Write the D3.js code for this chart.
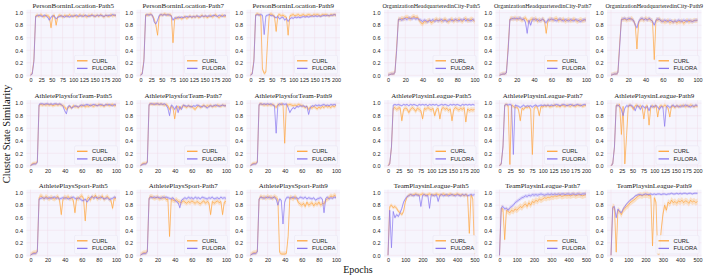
<!DOCTYPE html>
<html><head><meta charset="utf-8">
<script src="https://cdn.jsdelivr.net/npm/d3@7"></script>
<style>body{margin:0;background:#fff}svg{display:block}</style>
</head><body><svg id="c" width="709" height="279"></svg>
<script>
// ---------- titles / axes ----------
const titles = [
 "PersonBorninLocation-Path5","PersonBorninLocation-Path7","PersonBorninLocation-Path9",
 "OrganizationHeadquarteredinCity-Path5","OrganizationHeadquarteredinCity-Path7","OrganizationHeadquarteredinCity-Path9",
 "AthletePlaysforTeam-Path5","AthletePlaysforTeam-Path7","AthletePlaysforTeam-Path9",
 "AthletePlaysinLeague-Path5","AthletePlaysinLeague-Path7","AthletePlaysinLeague-Path9",
 "AthletePlaysSport-Path5","AthletePlaysSport-Path7","AthletePlaysSport-Path9",
 "TeamPlaysinLeague-Path5","TeamPlaysinLeague-Path7","TeamPlaysinLeague-Path9"];
const xMaxes = [200,200,200,100,100,100,100,100,100,200,200,200,100,100,100,500,500,500];
const ticks100 = [0,20,40,60,80,100];
const ticks200 = [0,25,50,75,100,125,150,175,200];
const ticks500 = [0,100,200,300,400,500];
const yTicks = [0,0.2,0.4,0.6,0.8,1.0];
const seriesNames = ["CURL","FULORA"];
const xLabel = "Epochs", yLabel = "Cluster State Similarity";

// ---------- series (51 samples across each panel's epoch range) ----------
const curl_PBL5 = [0,.03,.25,.95,.96,.94,.97,.95,.93,.96, .95,.94,.76,.95,.96,.8,.94,.96,.95,.93, .96,.94,.95,.97,.94,.95,.96,.93,.95,.97, .94,.96,.95,.93,.96,.95,.97,.94,.95,.96, .94,.97,.95,.93,.96,.95,.94,.97,.95,.96, .95];
const fulora_PBL5 = [0,.02,.22,.94,.95,.96,.95,.94,.96,.95, .93,.88,.93,.95,.94,.9,.93,.94,.95,.94, .93,.95,.94,.93,.95,.94,.95,.96,.94,.95, .95,.94,.96,.95,.94,.95,.96,.95,.94,.96, .95,.96,.95,.94,.96,.95,.96,.95,.97,.96, .96];
const curl_PBL7 = [0,.03,.25,.97,.96,.97,.98,.95,.9,.8, .64,.95,.97,.96,.98,.97,.96,.97,.96,.52, .9,.92,.91,.93,.9,.92,.94,.91,.93,.95, .92,.94,.93,.95,.92,.94,.96,.93,.95,.92, .94,.96,.93,.95,.97,.94,.92,.95,.96,.94, .95];
const fulora_PBL7 = [0,.02,.22,.96,.97,.96,.97,.96,.85,.82, .88,.96,.97,.96,.97,.96,.97,.96,.95,.88, .92,.91,.93,.92,.93,.92,.93,.94,.93,.94, .93,.94,.93,.95,.94,.93,.95,.94,.95,.94, .95,.94,.95,.96,.95,.94,.96,.95,.94,.96, .95];
const curl_PBL9 = [0,.03,.25,.97,.98,.97,.96,.1,.03,.05, .55,.97,.98,.96,.95,.7,.96,.97,.95,.96, .94,.93,.64,.95,.96,.97,.95,.96,.97,.95, .96,.97,.95,.96,.97,.96,.95,.97,.96,.97, .96,.95,.97,.96,.97,.96,.95,.97,.96,.97, .96];
const fulora_PBL9 = [0,.02,.22,.96,.97,.96,.97,.96,.65,.95, .96,.97,.95,.96,.93,.92,.94,.9,.92,.93, .88,.91,.86,.9,.92,.91,.93,.92,.93,.92, .93,.94,.93,.94,.93,.94,.95,.94,.95,.94, .95,.94,.95,.96,.95,.96,.95,.96,.96,.97, .96];
const curl_OHC5 = [0,.01,.02,.02,.04,.45,.9,.89,.91,.9, .92,.93,.91,.9,.93,.94,.92,.93,.88,.84, .82,.86,.85,.87,.88,.84,.86,.88,.9,.87, .89,.86,.88,.9,.87,.85,.88,.9,.86,.89, .87,.9,.88,.86,.89,.91,.87,.88,.9,.89, .86];
const fulora_OHC5 = [0,.01,.02,.02,.04,.4,.89,.9,.88,.9, .91,.89,.92,.91,.9,.92,.9,.91,.89,.88, .86,.88,.87,.85,.88,.87,.89,.86,.88,.87, .88,.89,.87,.88,.86,.88,.89,.87,.88,.89, .88,.87,.89,.88,.9,.87,.89,.88,.87,.89, .88];
const curl_OHC7 = [0,.01,.02,.02,.04,.45,.9,.91,.9,.92, .89,.91,.9,.88,.9,.92,.87,.85,.89,.9, .88,.91,.86,.89,.87,.9,.88,.67,.87,.9, .89,.88,.9,.91,.87,.89,.88,.9,.86,.88, .89,.87,.88,.9,.88,.86,.88,.89,.87,.88, .89];
const fulora_OHC7 = [0,.01,.02,.02,.04,.4,.89,.9,.91,.9, .91,.9,.92,.89,.9,.85,.67,.88,.8,.89, .9,.88,.89,.87,.88,.9,.86,.84,.89,.88, .9,.89,.88,.87,.89,.9,.88,.87,.89,.88, .87,.89,.88,.87,.89,.88,.87,.86,.88,.89, .88];
const curl_OHC9 = [0,.01,.02,.02,.04,.5,.9,.89,.9,.88, .9,.89,.91,.87,.82,.42,.85,.89,.9,.88, .91,.89,.9,.88,.87,.25,.89,.88,.9,.86, .87,.85,.86,.88,.84,.86,.85,.87,.84,.86, .85,.87,.83,.86,.88,.85,.87,.86,.88,.87, .88];
const fulora_OHC9 = [0,.01,.02,.02,.04,.45,.89,.9,.91,.89, .9,.91,.89,.88,.8,.76,.86,.9,.91,.89, .9,.88,.91,.89,.86,.8,.88,.9,.89,.87, .86,.88,.87,.86,.88,.87,.85,.87,.86,.88, .87,.86,.88,.87,.86,.88,.87,.86,.87,.88, .88];
const curl_APFT5 = [0,.03,.04,.04,.06,.97,.98,.97,.98,.97, .98,.97,.98,.96,.97,.98,.97,.98,.97,.96, .94,.9,.93,.95,.92,.96,.94,.95,.93,.96, .95,.97,.94,.96,.95,.97,.96,.95,.97,.96, .98,.96,.97,.95,.97,.98,.96,.97,.98,.96, .97];
const fulora_APFT5 = [0,.02,.03,.03,.05,.98,.99,.99,.98,.99, .99,.98,.99,.98,.99,.99,.98,.99,.98,.95, .88,.83,.95,.96,.92,.94,.96,.95,.94,.96, .97,.96,.97,.98,.97,.96,.97,.98,.97,.96, .97,.98,.97,.96,.98,.97,.98,.97,.96,.98, .97];
const curl_APFT7 = [0,.03,.04,.04,.06,.98,.99,.98,.99,.98, .99,.98,.99,.98,.97,.98,.96,.9,.95,.92, .75,.93,.95,.9,.94,.96,.95,.93,.96,.94, .95,.92,.9,.94,.96,.93,.95,.97,.94,.96, .95,.97,.94,.96,.95,.97,.96,.95,.97,.96, .96];
const fulora_APFT7 = [0,.02,.03,.03,.05,.98,.99,.99,.98,.99, .99,.98,.99,.98,.99,.97,.92,.8,.97,.95, .9,.96,.85,.95,.9,.97,.96,.95,.96,.95, .94,.96,.95,.97,.96,.95,.94,.96,.95,.92, .95,.96,.95,.96,.97,.96,.95,.96,.97,.96, .96];
const curl_APFT9 = [0,.03,.04,.04,.06,.98,.99,.98,.97,.98, .97,.98,.97,.98,.96,.93,.98,.97,.99,.98, .36,.98,.97,.98,.97,.96,.97,.96,.98,.97, .96,.95,.93,.95,.9,.94,.92,.95,.93,.91, .94,.92,.95,.93,.96,.94,.95,.93,.96,.94, .97];
const fulora_APFT9 = [0,.02,.03,.03,.05,.98,.99,.98,.99,.98, .99,.98,.99,.97,.96,.52,.97,.99,.98,.99, .98,.99,.93,.85,.9,.93,.91,.95,.94,.96, .95,.96,.94,.95,.82,.93,.96,.95,.97,.96, .97,.96,.97,.98,.96,.97,.96,.98,.97,.98, .97];
const curl_APIL5 = [0,.03,.3,.92,.93,.9,.92,.93,.72,.9, .92,.91,.85,.9,.93,.91,.87,.92,.9,.88, .75,.92,.9,.93,.91,.89,.92,.8,.9,.92, .75,.91,.93,.9,.92,.88,.91,.72,.9,.93, .91,.89,.92,.9,.93,.7,.91,.88,.9,.89, .9];
const fulora_APIL5 = [0,.03,.3,.97,.98,.97,.98,.97,.96,.98, .97,.98,.96,.98,.97,.98,.97,.96,.98,.97, .98,.97,.98,.96,.98,.97,.98,.97,.98,.96, .97,.98,.97,.98,.97,.96,.98,.97,.98,.97, .98,.97,.96,.98,.97,.98,.97,.98,.97,.98, .97];
const curl_APIL7 = [0,.03,.3,.97,.98,.96,.02,.97,.95,.93, .94,.9,.72,.92,.9,.94,.93,.95,.9,.18, .92,.95,.93,.8,.95,.94,.96,.95,.97,.94, .95,.96,.97,.95,.96,.94,.97,.96,.95,.97, .96,.95,.97,.96,.95,.97,.96,.97,.95,.96, .97];
const fulora_APIL7 = [0,.03,.3,.97,.98,.97,.98,.97,.18,.97, .96,.95,.93,.95,.97,.94,.96,.95,.96,.94, .96,.97,.95,.96,.97,.96,.97,.96,.97,.96, .97,.96,.97,.98,.97,.96,.97,.98,.97,.96, .97,.98,.97,.96,.97,.98,.97,.96,.97,.98, .97];
const curl_APIL9 = [0,.03,.3,.97,.96,.98,.5,.95,.03,.48, .96,.97,.95,.9,.96,.97,.94,.96,.93,.75, .95,.96,.65,.94,.96,.93,.97,.78,.95,.96, .94,.97,.95,.92,.78,.96,.95,.93,.96,.94, .96,.95,.97,.94,.96,.95,.97,.96,.94,.96, .95];
const fulora_APIL9 = [0,.03,.3,.96,.97,.95,.9,.8,.92,.96, .95,.97,.96,.94,.88,.96,.95,.9,.96,.94, .92,.95,.88,.96,.94,.95,.96,.94,.9,.95, .94,.63,.95,.96,.93,.95,.97,.94,.96,.95, .94,.96,.95,.97,.96,.95,.94,.96,.95,.97, .96];
const curl_APS5 = [0,.03,.04,.04,.06,.92,.95,.93,.9,.94, .92,.9,.93,.91,.9,.92,.94,.88,.65,.9, .93,.91,.94,.9,.92,.88,.68,.92,.9,.93, .95,.91,.55,.9,.93,.88,.94,.92,.96,.9, .93,.91,.95,.89,.92,.94,.9,.88,.75,.92, .9];
const fulora_APS5 = [0,.02,.03,.03,.05,.9,.91,.92,.91,.92, .91,.92,.91,.92,.93,.91,.92,.9,.91,.92, .91,.92,.9,.91,.92,.93,.91,.9,.92,.9, .88,.87,.9,.85,.88,.92,.94,.91,.93,.92, .91,.93,.92,.9,.91,.92,.89,.9,.91,.93, .92];
const curl_APS7 = [0,.03,.04,.04,.06,.92,.94,.93,.91,.92, .93,.9,.92,.91,.93,.89,.9,.3,.9,.88, .87,.89,.86,.85,.84,.87,.85,.83,.86,.84, .87,.85,.83,.86,.84,.82,.85,.87,.83,.86, .84,.65,.86,.83,.85,.87,.84,.86,.65,.85, .86];
const fulora_APS7 = [0,.02,.03,.03,.05,.91,.93,.92,.93,.92, .93,.92,.91,.93,.92,.93,.92,.91,.9,.92, .88,.86,.84,.76,.88,.9,.92,.9,.93,.91, .92,.9,.93,.91,.92,.9,.93,.92,.91,.9, .92,.91,.93,.9,.91,.92,.9,.93,.91,.92, .91];
const curl_APS9 = [0,.03,.04,.04,.06,.9,.94,.92,.93,.91, .94,.92,.93,.91,.94,.92,.9,.05,.02,.02, .02,.03,.3,.93,.92,.9,.94,.91,.84,.82, .8,.83,.78,.85,.8,.82,.84,.79,.83,.81, .85,.8,.83,.82,.88,.9,.92,.95,.93,.96, .94];
const fulora_APS9 = [0,.02,.03,.03,.05,.9,.93,.92,.91,.93, .92,.93,.91,.92,.93,.9,.8,.9,.88,.5, .85,.92,.93,.91,.92,.93,.91,.92,.9,.93, .92,.91,.93,.9,.92,.91,.9,.92,.88,.9, .91,.92,.9,.68,.91,.93,.9,.92,.91,.93, .92];
const curl_TPIL5 = [0,.78,.8,.76,.78,.75,.7,.68,.65,.7, .85,.93,.96,.97,.96,.97,.98,.97,.96,.97, .98,.97,.96,.97,.98,.97,.96,.97,.98,.97, .96,.97,.98,.97,.96,.97,.98,.97,.96,.97, .98,.97,.96,.97,.95,.97,.96,.35,.97,.9, .02];
const fulora_TPIL5 = [0,.72,.12,.7,.6,.65,.62,.68,.75,.85, .9,.94,.95,.97,.96,.95,.97,.96,.96,.78, .96,.97,.95,.96,.75,.97,.96,.95,.97,.86, .96,.97,.95,.96,.97,.95,.96,.97,.96,.95, .97,.96,.95,.97,.96,.97,.95,.96,.97,.96, .97];
const curl_TPIL7 = [0,.75,.74,.25,.72,.7,.68,.72,.7,.74, .72,.75,.78,.76,.8,.82,.78,.84,.8,.86, .84,.88,.86,.9,.88,.9,.92,.91,.93,.92, .94,.93,.95,.94,.95,.96,.94,.95,.96,.95, .96,.95,.96,.97,.95,.96,.97,.96,.95,.96, .97];
const fulora_TPIL7 = [0,.76,.78,.74,.75,.72,.76,.78,.8,.84, .86,.88,.9,.92,.93,.95,.94,.96,.95,.97, .96,.97,.96,.97,.98,.97,.96,.97,.98,.97, .98,.97,.98,.97,.98,.97,.98,.98,.97,.98, .98,.97,.98,.98,.97,.98,.98,.97,.98,.98, .98];
const curl_TPIL9 = [0,.78,.76,.05,.72,.7,.65,.72,.75,.78, .8,.84,.86,.88,.9,.93,.95,.96,.95,.97, .96,.97,.95,.96,.15,.92,.85,.02,.02,.4, .65,.8,.72,.85,.82,.88,.84,.86,.83,.87, .85,.88,.84,.87,.86,.83,.88,.85,.87,.84, .86];
const fulora_TPIL9 = [0,.76,.78,.6,.74,.7,.68,.74,.78,.82, .85,.88,.9,.92,.95,.96,.97,.97,.96,.97, .98,.97,.97,.98,.97,.98,.97,.98,.98,.97, .98,.98,.97,.98,.98,.99,.98,.98,.99,.98, .99,.98,.99,.99,.98,.99,.99,.98,.99,.99, .99];

const curlSeries = [curl_PBL5,curl_PBL7,curl_PBL9,curl_OHC5,curl_OHC7,curl_OHC9,curl_APFT5,curl_APFT7,curl_APFT9,curl_APIL5,curl_APIL7,curl_APIL9,curl_APS5,curl_APS7,curl_APS9,curl_TPIL5,curl_TPIL7,curl_TPIL9];
const fuloraSeries = [fulora_PBL5,fulora_PBL7,fulora_PBL9,fulora_OHC5,fulora_OHC7,fulora_OHC9,fulora_APFT5,fulora_APFT7,fulora_APFT9,fulora_APIL5,fulora_APIL7,fulora_APIL9,fulora_APS5,fulora_APS7,fulora_APS9,fulora_TPIL5,fulora_TPIL7,fulora_TPIL9];
// half-width of the shaded variability band per panel
const spreadCurl   = [.03,.03,.03,.04,.04,.04,.03,.03,.03,.04,.03,.03,.04,.04,.04,.03,.05,.05];
const spreadFulora = [.02,.02,.02,.03,.03,.03,.02,.02,.02,.015,.02,.025,.025,.025,.025,.025,.03,.02];

// ---------- drawing ----------
const colors = {CURL:"#ffa53f", FULORA:"#8877ee"};
const bandColors = {CURL:"#ffc27a", FULORA:"#b3a9f4"};
const svg = d3.select("#c");
const sans = "'Liberation Sans', Arial, sans-serif", serif = "'Liberation Serif','DejaVu Serif', serif";

function geom(p){
  const r = Math.floor(p/6), g = Math.floor((p%6)/3), c = p%3;
  const x0 = g===0 ? 30.5 + 110*c : 388 + 111.5*c;
  const w = g===0 ? 85.5 : 86.5;
  const yTop = [12.7,103.2,192.7][r];
  return {x0, x1:x0+w, yTop, y0:yTop+62.6};
}

titles.forEach((title,p)=>{
  const G = geom(p), xmax = xMaxes[p];
  const xt = xmax===100 ? ticks100 : xmax===200 ? ticks200 : ticks500;
  const x = d3.scaleLinear().domain([0,xmax]).range([G.x0,G.x1]);
  const y = d3.scaleLinear().domain([0,1]).range([G.y0,G.yTop]);
  const bl = G.x0-4, br = G.x1+4, bt = G.yTop-3, bb = G.y0+2;
  const g = svg.append("g");
  g.append("rect").attr("x",bl).attr("y",bt).attr("width",br-bl).attr("height",bb-bt).attr("fill","#f6f5fd");
  g.selectAll("line.v").data(xt).join("line").attr("x1",d=>x(d)).attr("x2",d=>x(d)).attr("y1",bt).attr("y2",bb)
    .attr("stroke","#f1dde8").attr("stroke-width",0.5);
  g.selectAll("line.h").data(yTicks).join("line").attr("class","h").attr("y1",d=>y(d)).attr("y2",d=>y(d)).attr("x1",bl).attr("x2",br)
    .attr("stroke","#f1dde8").attr("stroke-width",0.5);
  // axes
  const ax = g.append("g").attr("transform",`translate(0,${bb})`)
    .call(d3.axisBottom(x).tickValues(xt).tickSize(0).tickPadding(1.2).tickFormat(d3.format("d")));
  const ay = g.append("g").attr("transform",`translate(${bl},0)`)
    .call(d3.axisLeft(y).tickValues(yTicks).tickSize(0).tickPadding(3.5).tickFormat(d3.format(".1f")));
  [ax,ay].forEach(a=>{a.select(".domain").remove(); a.selectAll("text").attr("font-size",5.5).attr("font-family",sans).attr("fill","#222");});
  // series
  const step = xmax/50;
  [["CURL",curlSeries[p],spreadCurl[p]],["FULORA",fuloraSeries[p],spreadFulora[p]]].forEach(([name,vals,s])=>{
    const pts = vals.map((v,i)=>[i*step,v]);
    g.append("path").datum(pts).attr("fill",bandColors[name]).attr("opacity",0.4)
      .attr("d",d3.area().x(d=>x(d[0])).y0(d=>y(Math.max(0,d[1]-s))).y1(d=>y(Math.min(1.02,d[1]+s))));
  });
  [["CURL",curlSeries[p]],["FULORA",fuloraSeries[p]]].forEach(([name,vals])=>{
    const pts = vals.map((v,i)=>[i*step,v]);
    g.append("path").datum(pts).attr("fill","none").attr("stroke",colors[name]).attr("stroke-width",0.8).attr("opacity",0.85)
      .attr("stroke-linejoin","round").attr("d",d3.line().x(d=>x(d[0])).y(d=>y(d[1])));
  });
  // title (shrink long titles so they fit above their panel)
  const t = g.append("text").attr("x",(bl+br)/2).attr("y",G.yTop-5.2).attr("text-anchor","middle")
    .attr("font-family",serif).attr("font-size",7).attr("fill","#222").text(title);
  const maxW = 98, w0 = t.node().getComputedTextLength();
  if (w0 > maxW) t.attr("font-size", 7*maxW/w0);
  // legend
  const lw = 43, lh = 18.5, lx = br-2.5-lw, ly = bb-3.5-lh;
  const lg = g.append("g");
  lg.append("rect").attr("x",lx).attr("y",ly).attr("width",lw).attr("height",lh).attr("rx",1.5)
    .attr("fill","#f8f7fd").attr("stroke","#e6e3f0").attr("stroke-width",0.5).attr("opacity",0.9);
  seriesNames.forEach((n,i)=>{
    const yy = ly + 5.5 + i*7.6;
    lg.append("line").attr("x1",lx+2.5).attr("x2",lx+13).attr("y1",yy).attr("y2",yy).attr("stroke",colors[n]).attr("stroke-width",1.3);
    lg.append("text").attr("x",lx+17.5).attr("y",yy).attr("dy","0.35em").attr("font-family",sans).attr("font-size",5.8).attr("fill","#222").text(n);
  });
});

svg.append("text").attr("transform","translate(9.5,134) rotate(-90)").attr("text-anchor","middle")
  .attr("font-family",serif).attr("font-size",10.5).attr("fill","#111").text(yLabel);
svg.append("text").attr("x",358).attr("y",273).attr("text-anchor","middle")
  .attr("font-family",serif).attr("font-size",10).attr("fill","#111").text(xLabel);
</script></body></html>
